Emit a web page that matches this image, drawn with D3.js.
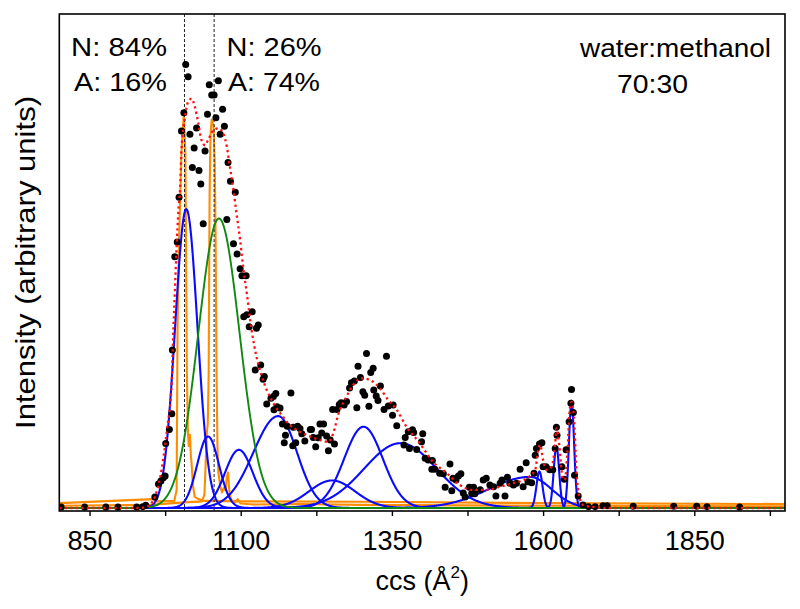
<!DOCTYPE html>
<html><head><meta charset="utf-8">
<script src="https://cdn.jsdelivr.net/npm/d3@7"></script>
<style>body{margin:0;background:#fff} text{font-family:"Liberation Sans",Arial,Helvetica,sans-serif;fill:#000}</style>
</head><body><svg id="c" width="800" height="609"></svg>
<script>
// ---------------- data ----------------
const ccsTicks = [850, 1100, 1350, 1600, 1850];
const ccsMinorTicks = [975, 1225, 1475, 1725, 1975];
const ccsDomain = [800, 2000];

// measured points (black dots)
const dotCcs = [803,842,877,897,928,938,943,958,964,968,972,975,976,982,986,987,991,995,998,1002,1006,1009,1013,1016,1020,1023,1027,1031,1034,1038,1041,1045,1048,1052,1056,1059,1063,1066,1070,1073,1077,1079,1083,1088,1091,1094,1099,1102,1105,1109,1110,1114,1119,1124,1126,1129,1133,1137,1139,1143,1150,1154,1155,1158,1160,1165,1169,1172,1174,1177,1183,1186,1187,1191,1194,1198,1201,1206,1215,1217,1220,1224,1228,1231,1234,1237,1242,1245,1248,1252,1255,1259,1263,1266,1271,1275,1280,1283,1288,1292,1294,1298,1302,1305,1308,1312,1315,1319,1320,1324,1327,1331,1337,1341,1344,1351,1352,1358,1370,1372,1377,1379,1384,1386,1391,1399,1401,1405,1410,1416,1417,1421,1429,1435,1438,1446,1449,1451,1456,1460,1464,1468,1471,1478,1482,1485,1487,1496,1501,1506,1512,1518,1522,1529,1532,1537,1541,1545,1551,1556,1562,1567,1572,1575,1581,1585,1587,1589,1594,1598,1600,1605,1611,1616,1620,1622,1623,1631,1635,1638,1643,1646,1647,1650,1652,1658,1666,1675,1686,1699,1706,1749,1816,1854,1871,1925];
const dotIntensity = [0.2,0.2,0.2,0.2,0.2,0.3,0.6,2.5,5.4,6.1,6.8,7.2,14.5,17.7,21.2,35.6,56.6,59.9,70.0,84.9,89.0,99.9,97.1,84.2,76.7,81.1,85.6,76.0,73.0,64.0,80.4,88.7,95.3,93.0,93.0,87.9,96.2,84.2,89.8,86.0,65.0,77.8,73.6,59.5,71.1,57.2,53.9,52.3,43.1,52.3,43.5,40.8,44.2,31.1,40.5,41.2,32.2,29.0,29.6,23.4,24.7,25.1,22.1,25.8,22.8,22.5,18.9,14.7,16.4,18.4,25.9,14.0,18.2,14.7,18.4,17.9,16.7,15.1,17.7,17.7,15.9,13.8,15.8,18.9,16.9,18.9,16.2,12.9,15.3,22.2,14.4,22.2,23.3,23.7,23.2,24.0,27.0,28.2,28.6,22.6,31.9,29.4,26.2,25.4,34.8,22.9,30.5,31.5,26.6,25.2,24.2,27.5,22.2,34.2,23.0,20.9,23.2,18.5,14.2,15.9,17.2,13.4,17.6,17.0,13.2,14.9,16.7,11.2,10.8,8.7,10.7,8.7,7.8,7.7,4.7,9.9,3.9,6.7,6.3,7.2,7.7,3.4,2.5,4.7,3.3,4.7,3.2,4.1,6.3,6.7,5.2,4.8,2.7,5.6,6.3,2.7,6.9,5.6,5.2,5.6,8.7,4.8,10.2,5.9,5.7,7.8,11.9,13.4,14.4,14.7,9.3,9.3,8.6,8.6,13.4,18.2,16.4,9.3,6.5,13.1,19.4,23.6,26.7,21.5,7.4,2.7,0.7,0.3,0.3,0.5,0.5,0.4,0.4,0.4,0.3,0.2];

// overall fit (red dotted)
const fitCcs = [800,933,942,950,958,967,978,986,988,991,994,997,1000,1002,1008,1013,1019,1024,1030,1035,1041,1046,1055,1063,1071,1077,1082,1088,1093,1099,1104,1110,1118,1126,1135,1143,1154,1168,1181,1198,1215,1231,1245,1253,1261,1275,1286,1300,1314,1330,1344,1358,1374,1396,1418,1441,1462,1484,1507,1529,1551,1573,1587,1592,1595,1600,1606,1614,1620,1622,1627,1632,1636,1640,1644,1647,1651,1655,1660,1666,1677,1711,2000];
const fitIntensity = [0,0,0.2,0.7,2.5,7.0,17.6,28.8,37.8,48.4,58.8,67.1,72.5,80.6,88.1,91.5,92.2,90.4,86.6,82.9,81.7,82.9,85.1,85.5,84.4,81.4,76.9,71.6,66.4,60.4,54.3,48.4,40.1,34.1,29.6,26.6,23.6,20.9,18.7,17.2,16.1,15.3,14.9,16.8,20.9,25.1,27.7,29.2,28.8,27.0,24.3,22.1,18.3,14.6,10.4,7.8,5.2,4.1,4.1,4.8,5.6,6.7,8.6,13.1,14.2,10.8,8.6,9.3,14.6,17.9,13.8,7.0,6.3,12.3,22.1,23.9,20.6,8.6,2.5,0.7,0.3,0,0];

// fitted Gaussian components (blue): centre, height, left / right width (sigma, Å²)
const blueCenter = [1010, 1046, 1097, 1162, 1251, 1303, 1364, 1578, 1594, 1622, 1647];
const blueHeight = [67.3, 16.1, 13.1, 20.7, 6.2, 18.3, 14.6, 7.0, 8.2, 13.8, 23.9];
const blueSigmaL = [18.5, 18, 23, 41, 38, 32, 60, 68, 5, 4.5, 4.3];
const blueSigmaR = [18.5, 18, 23, 31, 38, 32, 60, 36, 5, 4.5, 4.3];
// green component
const greenCenter = [1064];
const greenHeight = [65.2];
const greenSigma = [34];

// reference traces (orange)
const orangeACcs = [801,955,960,990,994,995.5,998,1002,1006,1008.5,1010,1011,1012.5,1014,1016,1017.5,1019,1021,1024,1030,1040,1100,1300,1600,2000];
const orangeAValue = [1.1,2.0,1.5,1.6,4,40,60,80,89,80,50,30,18,14,16.5,12,9.5,5,2.5,2.0,1.6,1.5,1.4,1.1,0.9];
const orangeBCcs = [801,950,1000,1036,1040,1042,1044,1045.5,1047,1048.5,1050,1052,1055,1057,1058.5,1060,1061.5,1063,1066,1069,1072,1075,1077,1079,1081,1084,1090,1095,1100,1120,1200,1300,1600,2000];
const orangeBValue = [0.5,0.7,1.2,1.5,3,10,17,19,30,70,84,87.5,86,78,60,30,14,8,5,3.5,4.5,4,7,8,4,1.8,1.3,2.0,1.0,0.8,0.9,0.7,0.5,0.4];

// vertical markers
const markerCcs = [1007, 1056];

const annotations = [
  {t: "N: 84%", x: 71, y: 55.5, len: 96},
  {t: "A: 16%", x: 74, y: 90.5, len: 93},
  {t: "N: 26%", x: 226.5, y: 55.5, len: 95},
  {t: "A: 74%", x: 228, y: 90.5, len: 92},
  {t: "water:methanol", x: 580, y: 57.3, len: 191},
  {t: "70:30", x: 617, y: 92.7, len: 71}
];

// ---------------- chart ----------------
const svg = d3.select("#c");
const L = 59.3, R = 785, T = 14, B = 511;
const x = d3.scaleLinear().domain(ccsDomain).range([L, R]);
const y = d3.scaleLinear().domain([-0.676, 111.26]).range([B, T]);

svg.append("defs").append("clipPath").attr("id", "clip")
  .append("rect").attr("x", L).attr("y", T).attr("width", R - L).attr("height", B - T);
const g = svg.append("g").attr("clip-path", "url(#clip)");

const grid = d3.range(ccsDomain[0], ccsDomain[1] + 0.01, 0.5);
function comp(c, h, sl, sr) {
  return grid.map(v => { const s = v < c ? sl : sr; return [v, h * Math.exp(-0.5 * ((v - c) / s) ** 2)]; });
}
const line = d3.line().x(d => x(d[0])).y(d => y(d[1]));

// orange
[[orangeACcs, orangeAValue], [orangeBCcs, orangeBValue]].forEach(([cs, vs]) => {
  g.append("path").datum(cs.map((c, i) => [c, vs[i]]))
    .attr("d", line).attr("fill", "none").attr("stroke", "#ff8c00").attr("stroke-width", 2.1)
    .attr("stroke-linejoin", "round");
});

// dashed markers
g.selectAll("line.mk").data(markerCcs).enter().append("line")
  .attr("x1", d => x(d)).attr("x2", d => x(d)).attr("y1", T).attr("y2", B)
  .attr("stroke", "#222").attr("stroke-width", 1).attr("stroke-dasharray", "3,2");

// blue components
blueCenter.forEach((c, i) => {
  g.append("path").datum(comp(c, blueHeight[i], blueSigmaL[i], blueSigmaR[i]))
    .attr("d", line).attr("fill", "none").attr("stroke", "#0a0aff").attr("stroke-width", 2.1);
});
// green
greenCenter.forEach((c, i) => {
  g.append("path").datum(comp(c, greenHeight[i], greenSigma[i], greenSigma[i]))
    .attr("d", line).attr("fill", "none").attr("stroke", "#118811").attr("stroke-width", 1.9);
});

// dots
g.selectAll("circle").data(dotCcs.map((c, i) => [c, dotIntensity[i]])).enter().append("circle")
  .attr("cx", d => x(d[0])).attr("cy", d => y(d[1])).attr("r", 3.5).attr("fill", "#000");

// red dotted fit
g.append("path").datum(fitCcs.map((c, i) => [c, fitIntensity[i]]))
  .attr("d", d3.line().x(d => x(d[0])).y(d => y(d[1])).curve(d3.curveMonotoneX))
  .attr("fill", "none").attr("stroke", "#ff1010").attr("stroke-width", 2.3)
  .attr("stroke-dasharray", "2.3,3.2");

// frame
svg.append("rect").attr("x", L).attr("y", T).attr("width", R - L).attr("height", B - T)
  .attr("fill", "none").attr("stroke", "#000").attr("stroke-width", 1.6);

// x axis
const ax = svg.append("g").attr("transform", `translate(0,${B})`)
  .call(d3.axisBottom(x).tickValues(ccsTicks).tickSize(5).tickPadding(14.5).tickFormat(d3.format("d")));
ax.select(".domain").remove();
ax.selectAll("line").attr("stroke", "#000").attr("stroke-width", 1.4);
ax.selectAll("text").attr("font-size", 27).attr("font-family", '"Liberation Sans",Arial,sans-serif').attr("fill", "#000");
const axm = svg.append("g").attr("transform", `translate(0,${B})`)
  .call(d3.axisBottom(x).tickValues(ccsMinorTicks).tickSize(5).tickFormat(""));
axm.select(".domain").remove();
axm.selectAll("line").attr("stroke", "#000").attr("stroke-width", 1.4);

// axis titles
const xt = svg.append("text").attr("x", (L + R) / 2).attr("y", 590).attr("text-anchor", "middle").attr("font-size", 27);
xt.append("tspan").text("ccs (Å");
xt.append("tspan").text("2").attr("font-size", 17).attr("dy", -12);
xt.append("tspan").text(")").attr("dy", 12);

svg.append("text").attr("transform", `translate(35,${(T + B) / 2}) rotate(-90)`)
  .attr("text-anchor", "middle").attr("font-size", 28)
  .attr("textLength", 333).attr("lengthAdjust", "spacingAndGlyphs")
  .text("Intensity (arbitrary units)");

// annotations
svg.selectAll("text.ann").data(annotations).enter().append("text").attr("class", "ann")
  .attr("x", d => d.x).attr("y", d => d.y).attr("font-size", 25.5)
  .attr("textLength", d => d.len).attr("lengthAdjust", "spacingAndGlyphs").text(d => d.t);
</script></body></html>
